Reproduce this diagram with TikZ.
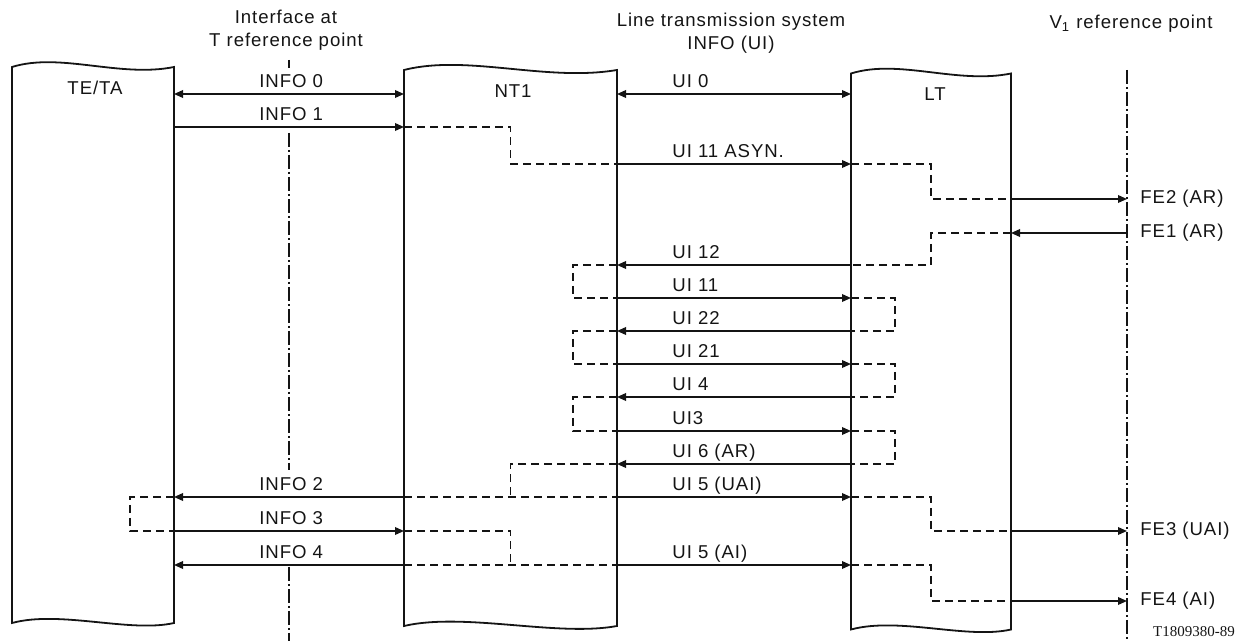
\documentclass[tikz,border=0pt]{standalone}
\usepackage{fontspec}
\setmainfont{Liberation Sans}[LetterSpace=5]
\newfontfamily\tagfont{Liberation Serif}
\usepackage{xcolor}
\usepackage{tikz}
\usetikzlibrary{arrows.meta}
\definecolor{inkcolor}{RGB}{20,20,20}

\tikzset{
  block/.style={inner sep=0pt, outer sep=0pt, minimum height=278pt},
  boxline/.style={line width=0.9pt, inkcolor},
  sig/.style={line width=0.8pt, inkcolor, -{Triangle[length=4.5pt,width=3.8pt]}},
  sigboth/.style={sig, {Triangle[length=4.5pt,width=3.8pt]}-{Triangle[length=4.5pt,width=3.8pt]}},
  dashline/.style={line width=0.7pt, inkcolor, dash pattern=on 4pt off 2.5pt},
  refline/.style={line width=0.6pt, inkcolor, dash pattern=on 7pt off 1.5pt on 1pt off 1.5pt},
  lbl/.style={inkcolor, inner sep=0pt, font=\fontsize{9.3}{11.5}\selectfont},
}

\begin{document}
\begin{tikzpicture}[x=0.5pt, y=-0.5pt]
  \useasboundingbox (0,0) rectangle (1249,641);

  % blocks
  \node[block, minimum width=81pt] (te) at (93,345) {};
  \node[block, minimum width=106.5pt] (nt) at (510.5,348) {};
  \node[block, minimum width=80pt] (lt) at (931,351.5) {};

  \draw[boxline] (te.north west) .. controls +(48,-15) and +(-54,11) .. (te.north east)
    -- (te.south east) .. controls +(-44,10) and +(48,-13) .. (te.south west) -- cycle;
  \draw[boxline] (nt.north west) .. controls +(63,-16) and +(-71,12) .. (nt.north east)
    -- (nt.south east) .. controls +(-60,11) and +(60,-14) .. (nt.south west) -- cycle;
  \draw[boxline] (lt.north west) .. controls +(48,-15) and +(-54,11) .. (lt.north east)
    -- (lt.south east) .. controls +(-44,10) and +(48,-13) .. (lt.south west) -- cycle;

  \node[lbl] (tetxt) at (95,88) {TE/TA};
  \node[lbl] (nttxt) at (513,91) {NT1};
  \node[lbl] (lttxt) at (935,94) {LT};

  % headings
  \node[lbl, align=center] (thead) at (286,30) {Interface at\\T reference point};
  \node[lbl, align=center] (uhead) at (731,33) {Line transmission system\\INFO (UI)};
  \node[lbl] (vhead) at (1131,24) {V\textsubscript{1} reference point};

  % reference points
  \coordinate (tref) at (289,0);
  \coordinate (vref) at (1127,0);
  \draw[refline] (289,60) -- (289,68) (289,133) -- (289,470) (289,567) -- (289,641);
  \draw[refline] (1127,70) -- (1127,641);

  % rows
  \foreach \n/\y in {0/94,1/127,2/164,3/199,4/233,5/265,6/298,7/331,8/364,9/397,
                     10/431,11/464,12/497,13/531,14/565,15/601}
    \coordinate (r\n) at (0,\y);

  % TE/TA -- NT1
  \draw[sigboth] (te.east |- r0) -- (nt.west |- r0);
  \draw[sig] (te.east |- r1) -- (nt.west |- r1);
  \draw[sig] (nt.west |- r12) -- (te.east |- r12);
  \draw[sig] (te.east |- r13) -- (nt.west |- r13);
  \draw[sig] (nt.west |- r14) -- (te.east |- r14);

  % NT1 -- LT
  \draw[sigboth] (nt.east |- r0) -- (lt.west |- r0);
  \draw[sig] (nt.east |- r2) -- (lt.west |- r2);
  \draw[sig] (lt.west |- r5) -- (nt.east |- r5);
  \draw[sig] (nt.east |- r6) -- (lt.west |- r6);
  \draw[sig] (lt.west |- r7) -- (nt.east |- r7);
  \draw[sig] (nt.east |- r8) -- (lt.west |- r8);
  \draw[sig] (lt.west |- r9) -- (nt.east |- r9);
  \draw[sig] (nt.east |- r10) -- (lt.west |- r10);
  \draw[sig] (lt.west |- r11) -- (nt.east |- r11);
  \draw[sig] (nt.east |- r12) -- (lt.west |- r12);
  \draw[sig] (nt.east |- r14) -- (lt.west |- r14);

  % LT -- V1
  \draw[sig] (lt.east |- r3) -- (vref |- r3);
  \draw[sig] (vref |- r4) -- (lt.east |- r4);
  \draw[sig] (lt.east |- r13) -- (vref |- r13);
  \draw[sig] (lt.east |- r15) -- (vref |- r15);

  % internal loops
  \draw[dashline] (nt.west |- r1) -| (nt.center |- r2) -- (nt.east |- r2);
  \draw[dashline] (lt.west |- r2) -| (lt.center |- r3) -- (lt.east |- r3);
  \draw[dashline] (lt.east |- r4) -| (lt.center |- r5) -- (lt.west |- r5);
  \draw[dashline] (nt.east |- r5) -- ++(-44,0) |- (nt.east |- r6);
  \draw[dashline] (lt.west |- r6) -- ++(44,0) |- (lt.west |- r7);
  \draw[dashline] (nt.east |- r7) -- ++(-44,0) |- (nt.east |- r8);
  \draw[dashline] (lt.west |- r8) -- ++(44,0) |- (lt.west |- r9);
  \draw[dashline] (nt.east |- r9) -- ++(-44,0) |- (nt.east |- r10);
  \draw[dashline] (lt.west |- r10) -- ++(44,0) |- (lt.west |- r11);
  \draw[dashline] (nt.east |- r11) -| (nt.center |- r12);
  \draw[dashline] (nt.west |- r12) -- (nt.east |- r12);
  \draw[dashline] (te.east |- r12) -- ++(-44,0) |- (te.east |- r13);
  \draw[dashline] (nt.west |- r13) -| (nt.center |- r14);
  \draw[dashline] (nt.west |- r14) -- (nt.east |- r14);
  \draw[dashline] (lt.west |- r12) -| (lt.center |- r13) -- (lt.east |- r13);
  \draw[dashline] (lt.west |- r14) -| (lt.center |- r15) -- (lt.east |- r15);

  % labels
  \node[lbl, anchor=base west] (linfo0) at (259,88) {INFO 0};
  \node[lbl, anchor=base west] (linfo1) at (259,121) {INFO 1};
  \node[lbl, anchor=base west] (linfo2) at (259,491) {INFO 2};
  \node[lbl, anchor=base west] (linfo3) at (259,525) {INFO 3};
  \node[lbl, anchor=base west] (linfo4) at (259,559) {INFO 4};

  \node[lbl, anchor=base west] (lui0) at (672,88) {UI 0};
  \node[lbl, anchor=base west] (lui11a) at (672,158) {UI 11 ASYN.};
  \node[lbl, anchor=base west] (lui12) at (672,259) {UI 12};
  \node[lbl, anchor=base west] (lui11) at (672,292) {UI 11};
  \node[lbl, anchor=base west] (lui22) at (672,325) {UI 22};
  \node[lbl, anchor=base west] (lui21) at (672,358) {UI 21};
  \node[lbl, anchor=base west] (lui4) at (672,391) {UI 4};
  \node[lbl, anchor=base west] (lui3) at (672,425) {UI3};
  \node[lbl, anchor=base west] (lui6) at (672,458) {UI 6 (AR)};
  \node[lbl, anchor=base west] (lui5u) at (672,491) {UI 5 (UAI)};
  \node[lbl, anchor=base west] (lui5a) at (672,559) {UI 5 (AI)};

  \node[lbl, anchor=west] (lfe2) at (1140,199) {FE2 (AR)};
  \node[lbl, anchor=west] (lfe1) at (1140,233) {FE1 (AR)};
  \node[lbl, anchor=west] (lfe3) at (1140,531) {FE3 (UAI)};
  \node[lbl, anchor=west] (lfe4) at (1140,601) {FE4 (AI)};

  \node[lbl, font=\tagfont\fontsize{7.5}{9}\selectfont] (figtag) at (1194,632) {T1809380-89};
\end{tikzpicture}
\end{document}
